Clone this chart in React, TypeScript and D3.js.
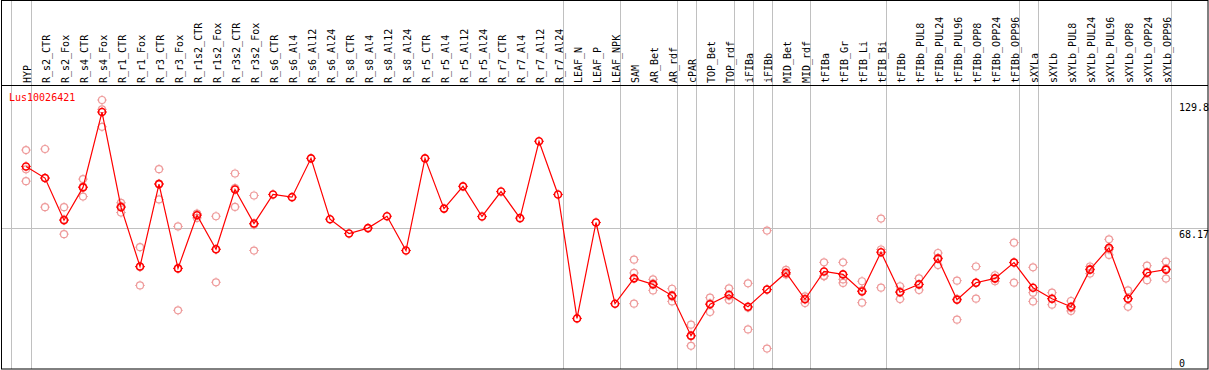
import React, { useRef, useEffect } from 'react';
import * as d3 from 'd3';

const geneName = 'Lus10026421';

const samples = [
  'HYP', 'R_s2_CTR', 'R_s2_Fox', 'R_s4_CTR', 'R_s4_Fox', 'R_r1_CTR', 'R_r1_Fox', 'R_r3_CTR',
  'R_r3_Fox', 'R_r1s2_CTR', 'R_r1s2_Fox', 'R_r3s2_CTR', 'R_r3s2_Fox', 'R_s6_CTR', 'R_s6_Al4',
  'R_s6_Al12', 'R_s6_Al24', 'R_s8_CTR', 'R_s8_Al4', 'R_s8_Al12', 'R_s8_Al24', 'R_r5_CTR',
  'R_r5_Al4', 'R_r5_Al12', 'R_r5_Al24', 'R_r7_CTR', 'R_r7_Al4', 'R_r7_Al12', 'R_r7_Al24',
  'LEAF_N', 'LEAF_P', 'LEAF_NPK', 'SAM', 'AR_Bet', 'AR_rdf', 'cPAR', 'TOP_Bet', 'TOP_rdf',
  'iFIBa', 'iFIBb', 'MID_Bet', 'MID_rdf', 'tFIBa', 'tFIB_Gr', 'tFIB_Li', 'tFIB_Bi', 'tFIBb',
  'tFIBb_PUL8', 'tFIBb_PUL24', 'tFIBb_PUL96', 'tFIBb_OPP8', 'tFIBb_OPP24', 'tFIBb_OPP96',
  'sXYLa', 'sXYLb', 'sXYLb_PUL8', 'sXYLb_PUL24', 'sXYLb_PUL96', 'sXYLb_OPP8', 'sXYLb_OPP24',
  'sXYLb_OPP96',
];

// mean expression per sample
const means = [
  97.8, 92.2, 71.9, 87.7, 124.0, 78.2, 49.6, 89.3, 48.7, 74.3, 57.9, 86.7, 70.3, 84.3, 83.0,
  101.7, 72.4, 65.5, 68.1, 73.8, 57.3, 101.7, 77.5, 88.2, 73.7, 85.7, 72.9, 109.9, 84.3,
  24.6, 70.8, 31.7, 43.9, 41.0, 35.6, 16.3, 31.4, 36.0, 30.2, 38.5, 46.6, 33.8, 47.2, 45.8,
  37.6, 56.5, 37.2, 41.0, 53.4, 33.6, 41.8, 43.9, 51.5, 39.4, 34.1, 30.2, 48.1, 58.6, 34.1,
  46.6, 48.1,
];

// replicates (null = not available)
const rep1 = [
  105.7, 106.2, 78.2, 91.7, 129.8, 80.3, 58.9, 96.5, 68.9, 74.8, 73.8, 94.4, 83.8,
  null, null, null, null, null, null, null, null, null, null, null, null, null, null, null, null,
  null, null, null, 52.9, 43.4, 38.9, 21.6, 34.6, 39.1, 41.5, 66.9, 48.0, 35.2, 51.6, 51.6,
  42.5, 72.7, 40.1, 43.9, 56.1, 42.8, 49.6, 45.4, 61.1, 49.2, 37.0, 33.0, 49.6, 62.7, 38.1,
  50.0, 52.0,
];
const rep2 = [
  96.4, 92.2, 72.3, 88.1, 125.3, 78.7, 49.4, 89.5, 48.7, 75.1, 57.9, 87.4, 69.8,
  null, null, null, null, null, null, null, null, null, null, null, null, null, null, null, null,
  null, null, null, 46.5, 41.5, 35.1, 16.0, 31.9, 35.4, 29.8, 38.5, 46.0, 34.2, 45.1, 43.4,
  38.1, 57.8, 37.6, 40.9, 53.8, 34.0, 41.7, 43.8, 51.6, 37.0, 34.1, 29.6, 48.5, 57.8, 34.1,
  46.9, 48.6,
];
const rep3 = [
  90.7, 78.2, 65.2, 83.3, 116.9, 75.6, 40.5, 81.9, 28.5, 73.0, 42.0, 78.3, 57.3,
  null, null, null, null, null, null, null, null, null, null, null, null, null, null, null, null,
  null, null, null, 31.7, 38.1, 32.8, 11.4, 27.7, 33.5, 19.3, 10.1, 45.8, 32.0, 44.9, 41.7,
  32.2, 39.4, 33.9, 38.3, 50.3, 24.0, 34.1, 42.5, 41.8, 32.8, 31.2, 28.2, 46.2, 55.2, 30.2,
  43.0, 43.8,
];

// last sample index of each group (gray separators)
const groupEnds = [0, 28, 31, 34, 35, 37, 38, 39, 41, 45, 52, 53, 60];
const yTicks = [129.8, 68.17, 0];

const W = 1209;
const H = 370;

const App: React.FC = () => {
  const svgRef = useRef<SVGSVGElement>(null);

  useEffect(() => {
    if (!svgRef.current) return;
    const svg = d3.select(svgRef.current);
    svg.selectAll('*').remove();

    const headerY = 85.5;
    const x = d3.scaleLinear().domain([0, samples.length - 1]).range([26, 1166]);
    const y = d3.scaleLinear().domain([0, 129.8]).range([369.5, 100]);
    const px = (v: number) => Math.round(v) + 0.5;

    svg.append('rect')
      .attr('width', W).attr('height', H).attr('fill', '#fff');

    // gray separators
    const seps = [x(0) - 15.2, ...groupEnds.map(i => x(i) + 4.7)];
    svg.selectAll('.sep')
      .data(seps)
      .enter()
      .append('line')
      .attr('x1', d => px(d)).attr('x2', d => px(d))
      .attr('y1', 0).attr('y2', 369)
      .attr('stroke', '#c0c0c0').attr('stroke-width', 1);

    // reference line
    svg.append('line')
      .attr('x1', 1).attr('x2', 1208)
      .attr('y1', px(y(68.17))).attr('y2', px(y(68.17)))
      .attr('stroke', '#c0c0c0').attr('stroke-width', 1);

    // frame + header divider
    svg.append('rect')
      .attr('x', 1.5).attr('y', 0.5).attr('width', 1206.5).attr('height', 368.5)
      .attr('fill', 'none').attr('stroke', '#000').attr('stroke-width', 1);
    svg.append('line')
      .attr('x1', 1).attr('x2', 1208).attr('y1', headerY).attr('y2', headerY)
      .attr('stroke', '#000').attr('stroke-width', 1);

    // column labels
    svg.selectAll('.lbl')
      .data(samples)
      .enter()
      .append('text')
      .attr('transform', (d, i) => `translate(${x(i) + 4.5},83) rotate(-90)`)
      .attr('text-anchor', 'start')
      .attr('font-family', 'DejaVu Sans Mono, monospace')
      .attr('font-size', '10px')
      .attr('fill', '#000')
      .text(d => d);

    // y labels
    svg.selectAll('.ytick')
      .data(yTicks)
      .enter()
      .append('text')
      .attr('x', 1179)
      .attr('y', d => Math.min(y(d) + 10.5, 366.5))
      .attr('font-family', 'DejaVu Sans Mono, monospace')
      .attr('font-size', '10px')
      .attr('fill', '#000')
      .text(d => String(d));

    svg.append('text')
      .attr('x', 9).attr('y', 101)
      .attr('font-family', 'DejaVu Sans Mono, monospace')
      .attr('font-size', '10px')
      .attr('fill', '#ff0000')
      .text(geneName);

    const marker = (g: any, cx: number, cy: number, color: string, sw: number) => {
      const m = g.append('g').attr('transform', `translate(${cx},${cy})`);
      m.append('circle').attr('r', 3.5).attr('fill', 'none').attr('stroke', color).attr('stroke-width', sw);
      m.append('path')
        .attr('d', 'M0,-4.9V-3.8M0,3.8V4.9M-4.9,0H-3.8M3.8,0H4.9')
        .attr('stroke', color).attr('stroke-width', 0.9);
    };

    // replicates
    const reps = svg.append('g');
    [rep1, rep2, rep3].forEach(arr => {
      arr.forEach((v, i) => {
        if (v == null) return;
        marker(reps, x(i), y(v), '#ee9a9a', 1.2);
      });
    });

    // mean line
    const line = d3.line<number>()
      .x((d, i) => x(i))
      .y(d => y(d));
    svg.append('path')
      .datum(means)
      .attr('d', line)
      .attr('fill', 'none')
      .attr('stroke', '#ff0000')
      .attr('stroke-width', 1.2);

    const mg = svg.append('g');
    means.forEach((v, i) => marker(mg, x(i), y(v), '#ff0000', 1.6));
  }, []);

  return (
    <svg
      ref={svgRef}
      width={W}
      height={H}
      style={{ position: 'absolute', left: 0, top: 0, display: 'block' }}
    />
  );
};

export default App;
